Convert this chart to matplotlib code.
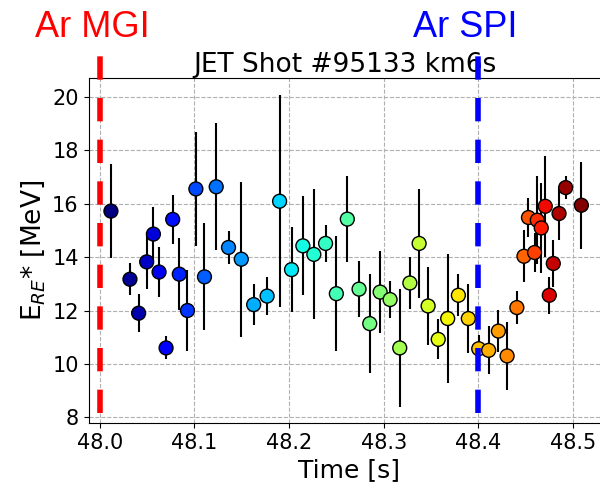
import numpy as np
import matplotlib
matplotlib.use('Agg')
from matplotlib import pyplot as plt

# runaway electron energy estimates, JET pulse 95133
time = [48.0117, 48.0318, 48.041, 48.0495, 48.0566, 48.0626, 48.070, 48.077,
        48.084, 48.0926, 48.1015, 48.1106, 48.123, 48.136, 48.1495, 48.1626,
        48.1768, 48.19, 48.2026, 48.2146, 48.2262, 48.2386, 48.25, 48.2616,
        48.274, 48.2853, 48.2963, 48.3068, 48.317, 48.3277, 48.3375, 48.347,
        48.3577, 48.3677, 48.379, 48.3895, 48.4005, 48.411, 48.4213, 48.4305,
        48.4408, 48.4483, 48.4531, 48.4595, 48.4624, 48.4666, 48.4708, 48.4751,
        48.4793, 48.4854, 48.4924, 48.509]
energy = [15.72, 13.17, 11.9, 13.82, 14.86, 13.44, 10.6, 15.41, 13.36, 12.0,
          16.55, 13.26, 16.63, 14.36, 13.92, 12.22, 12.54, 16.09, 13.53, 14.42,
          14.1, 14.51, 12.63, 15.42, 12.8, 11.51, 12.69, 12.41, 10.6, 13.03,
          14.51, 12.17, 10.92, 11.7, 12.57, 11.7, 10.57, 10.51, 11.23, 10.3,
          12.11, 14.03, 15.48, 14.17, 15.38, 15.09, 15.9, 12.57, 13.76, 15.63,
          16.6, 15.94]
energy_err = [1.77, 0.6, 0.7, 1.0, 1.0, 0.92, 0.43, 0.91, 1.35, 1.5, 2.14, 2.0,
              2.37, 0.62, 2.9, 0.78, 0.72, 3.97, 1.6, 1.85, 2.43, 0.7, 2.15, 1.6,
              1.05, 1.85, 1.53, 0.69, 2.22, 0.97, 2.05, 1.47, 0.75, 2.42, 0.78,
              1.3, 0.5, 0.9, 0.8, 1.27, 0.62, 0.97, 0.74, 0.73, 1.65, 1.7, 1.88,
              0.69, 0.88, 0.99, 0.44, 1.62]

t_mgi = 48.0
t_spi = 48.4

fig = plt.figure(figsize=(6, 4.84), dpi=100)
ax = fig.add_axes([0.1475, 0.126, 0.87, 0.7128])

ax.errorbar(time, energy, yerr=energy_err, fmt='none', ecolor='black',
            elinewidth=1.5, capsize=0, zorder=2)
ax.scatter(time, energy, c=np.arange(len(time)), cmap='jet', s=100,
           edgecolors='black', linewidths=1.0, zorder=3)

# injection times, drawn past the top of the axes
for t0, col in [(t_mgi, 'red'), (t_spi, 'blue')]:
    ax.plot([t0, t0], [8.15, 21.56], color=col, lw=4,
            linestyle=(0, (4.2, 3.3)), clip_on=False, zorder=4)

ax.set_xlim(47.988, 48.5398)
ax.set_ylim(7.79, 20.7)
ax.set_xticks([48.0, 48.1, 48.2, 48.3, 48.4, 48.5])
ax.set_yticks(range(8, 21, 2))
ax.tick_params(labelsize=15)
ax.grid(True, linestyle='--', color='#b0b0b0', linewidth=0.8)
ax.set_axisbelow(True)

ax.set_title('JET Shot #95133 km6s', fontsize=19, pad=3.5, x=0.491)
ax.set_xlabel('Time [s]', fontsize=18)
ax.set_ylabel('E$_{RE}$* [MeV]', fontsize=19)

fig.text(35 / 600, 1 - 37 / 484, 'Ar MGI', color='red', fontsize=26,
         family='Liberation Sans', ha='left', va='baseline')
fig.text(413 / 600, 1 - 37 / 484, 'Ar SPI', color='blue', fontsize=26,
         family='Liberation Sans', ha='left', va='baseline')

fig.savefig('out.png', dpi=100)
